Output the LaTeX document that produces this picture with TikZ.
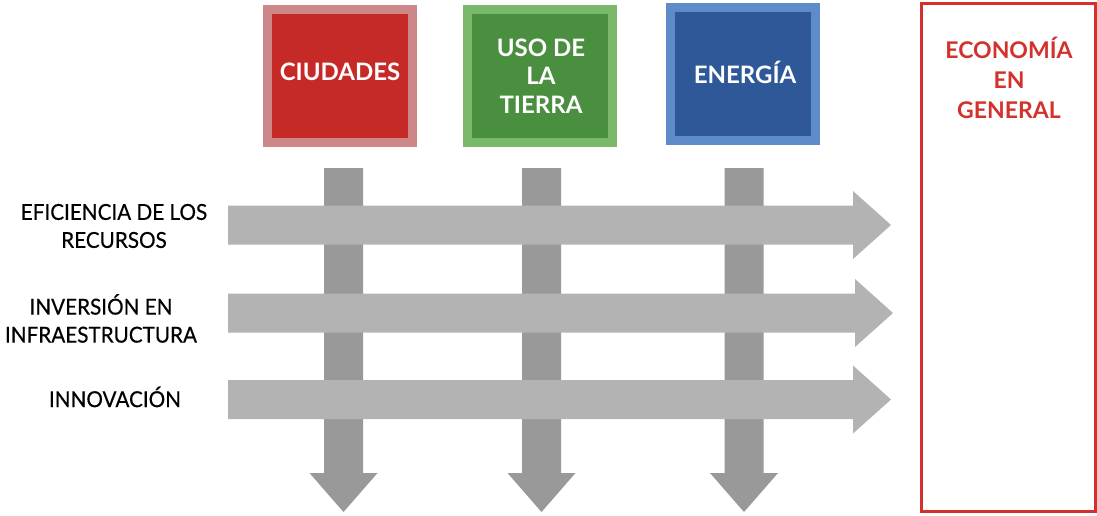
\documentclass[tikz,border=0pt]{standalone}
\usepackage{fontspec}
\setmainfont{Lato}
\newfontfamily\boxfont{Lato Bold}
\newfontfamily\lblfont[FakeStretch=0.94,FakeBold=0.4]{Lato}
\definecolor{vgray}{HTML}{999999}
\definecolor{hgray}{HTML}{B3B3B3}
\definecolor{redin}{HTML}{C62A26}
\definecolor{redout}{HTML}{CC8888}
\definecolor{grnin}{HTML}{4A8F3F}
\definecolor{grnout}{HTML}{7AB86A}
\definecolor{bluin}{HTML}{2F5899}
\definecolor{bluout}{HTML}{5E8CC8}
\definecolor{econred}{HTML}{D3312B}
\begin{document}
\begin{tikzpicture}[x=1pt,y=-1pt,
  topbox/.style={draw=#1,line width=9pt,minimum width=145pt,minimum height=133pt,inner sep=0pt,
    text=white,font=\boxfont\fontsize{24}{28.5}\selectfont,align=center},
  boxtext/.style={text=white,font=\boxfont\fontsize{24}{28.5}\selectfont,align=center,inner sep=0pt},
  lbl/.style={font=\lblfont\fontsize{22}{28}\selectfont,align=center,inner sep=0pt},
  varrow/.style={fill=vgray,draw=none},
  harrow/.style={fill=hgray,draw=none}]
\useasboundingbox (0,0) rectangle (1097,515);
% vertical arrows
\foreach \cx/\n in {343.5/va1,541.5/va2,744/va3}{
  \fill[varrow] (\cx-19.5,168) -- (\cx+19.5,168) -- (\cx+19.5,473) -- (\cx+34,473)
     -- (\cx,512) -- (\cx-34,473) -- (\cx-19.5,473) -- cycle;
  \coordinate (\n) at (\cx,512);
}
% horizontal arrows
\foreach \yc/\tx/\hx in {225/891/853,313/893/855,399.5/891/853}{
  \fill[harrow] (228,\yc-19.5) -- (\hx,\yc-19.5) -- (\hx,\yc-34) -- (\tx,\yc)
     -- (\hx,\yc+34) -- (\hx,\yc+19.5) -- (228,\yc+19.5) -- cycle;
}
% top boxes
\node[topbox=redout,fill=redin] (ciud) at (339.5,76) {};
\node[boxtext] (ciudt) at (340,72) {CIUDADES};
\node[topbox=grnout,fill=grnin] (tierra) at (540,76) {};
\node[boxtext] (tierrat) at (541,76) {USO DE\\LA\\TIERRA};
\node[topbox=bluout,fill=bluin] (energ) at (742.5,74) {};
\node[boxtext] (energt) at (745,72) {ENERG\'IA};
% economy box
\draw[econred,line width=3pt] (921,3) rectangle (1095.5,511);
\node[text=econred,font=\boxfont\fontsize{23}{30}\selectfont,align=center,inner sep=0pt]
  (econ) at (1009,78) {ECONOM\'IA\\EN\\GENERAL};
% labels
\node[lbl] (efic) at (114,226) {EFICIENCIA DE LOS\\RECURSOS};
\node[lbl] (inv) at (101,318.5) {INVERSI\'ON EN\\INFRAESTRUCTURA};
\node[lbl] (innov) at (115,397) {INNOVACI\'ON};
\end{tikzpicture}
\end{document}
